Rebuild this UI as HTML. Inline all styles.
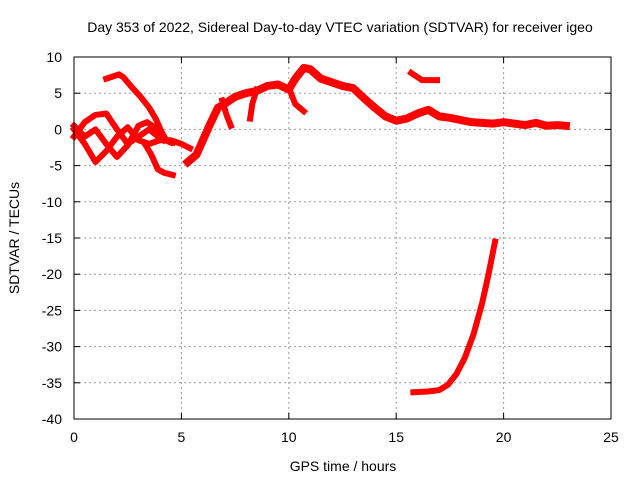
<!DOCTYPE html>
<html><head><meta charset="utf-8"><style>body{margin:0;background:#fff}svg{display:block;font-family:"Liberation Sans",sans-serif}</style></head>
<body>
<svg id="chart" width="640" height="480">
<text x="340" y="32" font-size="14" text-anchor="middle">Day 353 of 2022, Sidereal Day-to-day VTEC variation (SDTVAR) for receiver igeo</text>
<text x="343" y="471" font-size="14" text-anchor="middle">GPS time / hours</text>
<text transform="translate(19,238) rotate(-90)" font-size="14" text-anchor="middle">SDTVAR / TECUs</text>
<g id="grid"></g><g id="series"></g>
<rect x="74" y="57" width="537" height="362" fill="none" stroke="#000" stroke-width="1"/>
</svg>
<script>
const xTicks=[0,5,10,15,20,25];
const yTicks=[10,5,0,-5,-10,-15,-20,-25,-30,-35,-40];
const seriesArc=[[1.5,7],[2.1,7.6],[2.3,7.2],[2.7,5.8],[3.1,4.5],[3.5,3],[3.8,1.5],[4.1,-0.5],[4.3,-1.5],[4.6,-1.8]];
const seriesArc2=[[3.3,-2],[3.6,-3.5],[3.9,-5.5],[4.2,-6],[4.6,-6.3]];
const seriesB=[[0,0],[0.5,-2],[1,-4.5],[1.5,-3],[2,-1],[2.5,0.3],[3,-1.5],[3.5,-2],[4,-1.5],[4.5,-1.5],[5,-2],[5.4,-2.6]];
const seriesC=[[0,-1],[0.5,1],[1,2],[1.5,2.2],[2,0],[2.5,-2],[3,-1],[3.5,0],[4,-1.2],[4.5,-1.8]];
const seriesD=[[0,0.5],[0.5,-1],[1,0],[1.5,-2],[2,-3.8],[2.5,-2.2],[3,0.5],[3.4,1],[3.8,0.2],[4.2,-1.5]];
const seriesE=[[5.3,-4.5],[5.7,-3.5],[6,-1.5],[6.3,0.5],[6.7,3],[7,3.5],[7.5,4.5],[8,5],[8.5,5.3],[9,6],[9.5,6.2],[10,5.5],[10.3,7],[10.7,8.5],[11,8.3],[11.5,7],[12,6.5],[12.5,6],[13,5.7],[13.5,4.3],[14,3],[14.5,1.8],[15,1.2],[15.5,1.5],[16,2.2],[16.5,2.7],[17,1.8],[17.5,1.6],[18,1.3],[18.5,1],[19,0.9],[19.5,0.8],[20,1],[20.5,0.8],[21,0.6],[21.5,0.9],[22,0.5],[22.5,0.6],[22.9,0.5]];
const stub1=[[6.9,4],[7.1,2],[7.3,0.5]];
const stub2=[[8.5,5.5],[8.3,3.5],[8.2,1.5]];
const stub3=[[10.1,5],[10.3,3.5],[10.7,2.5]];
const seriesF=[[15.7,7.8],[16.2,6.8],[16.9,6.8]];
const seriesG=[[15.8,-36.3],[16.5,-36.2],[17,-36],[17.4,-35.3],[17.8,-33.8],[18.2,-31.5],[18.6,-28.3],[19,-24],[19.3,-20],[19.6,-15.5]];
const allSeries=[seriesArc,seriesArc2,seriesB,seriesC,seriesD,seriesE,stub1,stub2,stub3,seriesF,seriesG];
const X=h=>74+h*537/25, Y=v=>57+(10-v)*362/50;
const NS="http://www.w3.org/2000/svg";
const svg=document.getElementById('chart'),g=document.getElementById('grid'),s=document.getElementById('series');
function mk(t,a,p){const e=document.createElementNS(NS,t);for(const k in a)e.setAttribute(k,a[k]);p.appendChild(e);return e;}
xTicks.forEach(t=>{const x=X(t);
 if(t>0&&t<25){const l=mk('line',{x1:x,x2:x,y1:57,y2:419,stroke:'#999','stroke-dasharray':'2,3'},g);
 
 }
 mk('line',{x1:x,x2:x,y1:419,y2:413,stroke:'#000'},g);mk('line',{x1:x,x2:x,y1:57,y2:63,stroke:'#000'},g);
 const tx=mk('text',{x:x,y:442,'font-size':14,'text-anchor':'middle'},g);tx.textContent=t;
 
 });
yTicks.forEach(t=>{const y=Y(t);
 if(t<10&&t>-40){const l=mk('line',{x1:74,x2:611,y1:y,y2:y,stroke:'#999','stroke-dasharray':'2,3'},g);
 
 }
 mk('line',{x1:74,x2:80,y1:y,y2:y,stroke:'#000'},g);mk('line',{x1:611,x2:605,y1:y,y2:y,stroke:'#000'},g);
 const tx=mk('text',{x:62,y:y+5,'font-size':14,'text-anchor':'end'},g);tx.textContent=t;
 
 });
allSeries.forEach((d,i)=>{const p=mk('polyline',{points:d.map(q=>X(q[0])+','+Y(q[1])).join(' '),fill:'none',stroke:'#f00','stroke-width':(d===seriesE?8:6),'stroke-linejoin':'round','stroke-linecap':'square'},s);
 
 });
</script>
</body></html>
